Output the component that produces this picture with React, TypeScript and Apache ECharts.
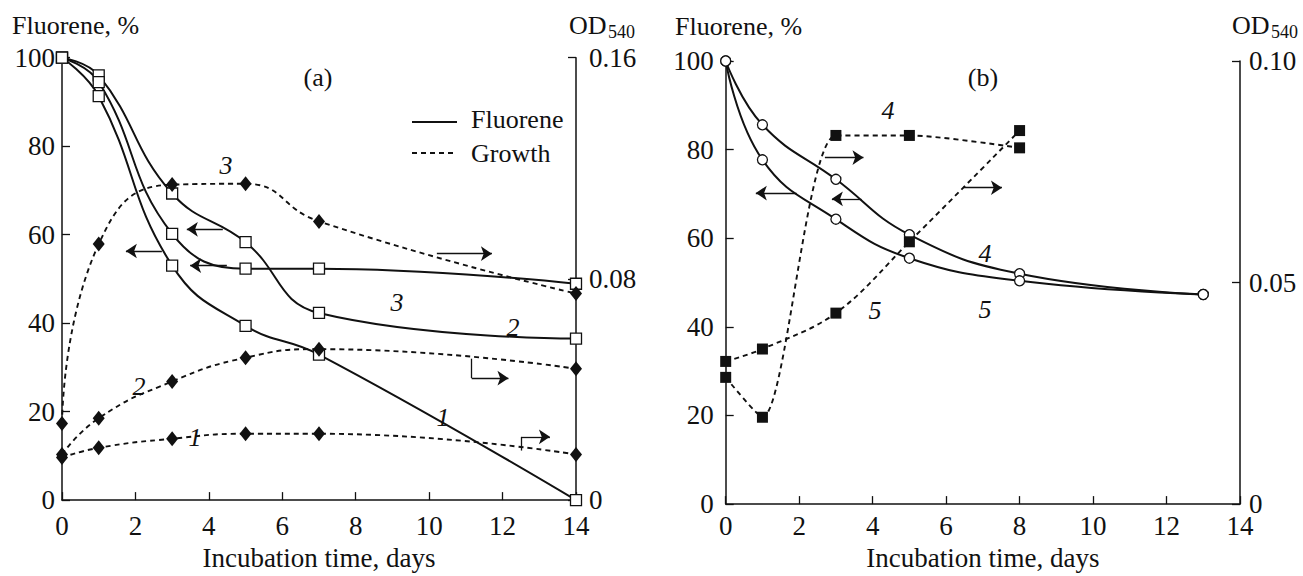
import React, { useEffect, useRef } from "react";
import * as echarts from "echarts";

// ---------- data ----------
// Panel (a)
const daysA = [0, 1, 3, 5, 7, 14];
const fluoreneA1 = [100, 91.3, 53.0, 39.4, 32.9, 0];
const fluoreneA2 = [100, 96.0, 69.3, 58.3, 42.3, 36.5];
const fluoreneA3 = [100, 94.5, 60.2, 52.3, 52.3, 48.9];
const growthA1 = [0.0154, 0.0189, 0.0222, 0.024, 0.024, 0.0165];
const growthA2 = [0.0165, 0.0296, 0.0429, 0.0515, 0.0546, 0.0475];
const growthA3 = [0.0277, 0.0926, 0.1141, 0.1144, 0.1008, 0.0747];
// Panel (b)
const daysBFluorene = [0, 1, 3, 5, 8, 13];
const fluoreneB4 = [100, 85.6, 73.3, 60.8, 52.0, 47.3];
const fluoreneB5 = [100, 77.7, 64.3, 55.5, 50.4, 47.3];
const daysBGrowth = [0, 1, 3, 5, 8];
const growthB4 = [0.0286, 0.0196, 0.0832, 0.0832, 0.0804];
const growthB5 = [0.0322, 0.035, 0.0431, 0.0592, 0.0843];

const xTicks = [0, 2, 4, 6, 8, 10, 12, 14];
const leftTicksPct = [0, 20, 40, 60, 80, 100];
const rightTicksA = [0, 0.08, 0.16];
const rightTicksB = [0, 0.05, 0.1];

const FONT = "Liberation Serif";
const INK = "#111";

const pairs = (xs: number[], ys: number[]) => xs.map((x, i) => [x, ys[i]]);

export default function App() {
  const ref = useRef<HTMLDivElement>(null);

  useEffect(() => {
    document.body.style.margin = "0";
    if (!ref.current) return;
    const chart = echarts.init(ref.current, undefined, { renderer: "svg" });

    const axisLine = { show: true, lineStyle: { color: INK, width: 1.5 } };
    const axisTick = { show: true, inside: true, length: 8, lineStyle: { color: INK, width: 1.3 } };
    const lbl = (margin: number) => ({ color: INK, fontSize: 27, fontFamily: FONT, margin });

    const xAxisBase = (gridIndex: number, margin: number, gap: number) => ({
      type: "value",
      gridIndex,
      min: xTicks[0],
      max: xTicks[xTicks.length - 1],
      interval: 2,
      axisLine,
      axisTick,
      splitLine: { show: false },
      axisLabel: lbl(margin),
      name: "Incubation time, days",
      nameLocation: "middle",
      nameGap: gap,
      nameTextStyle: { color: INK, fontSize: 27, fontFamily: FONT },
    });

    const yLeft = (gridIndex: number, margin: number) => ({
      type: "value",
      gridIndex,
      position: "left",
      min: leftTicksPct[0],
      max: leftTicksPct[leftTicksPct.length - 1],
      interval: 20,
      axisLine,
      axisTick,
      splitLine: { show: false },
      axisLabel: lbl(margin),
    });

    const yRight = (gridIndex: number, ticks: number[], margin: number) => ({
      type: "value",
      gridIndex,
      position: "right",
      min: ticks[0],
      max: ticks[ticks.length - 1],
      interval: ticks[1] - ticks[0],
      axisLine,
      axisTick,
      splitLine: { show: false },
      axisLabel: {
        ...lbl(margin),
        formatter: (v: number) => (v === 0 ? "0" : v.toFixed(2)),
      },
    });

    const fluor = (name: string, xs: number[], ys: number[], xi: number, yi: number, symbol: string, size: number, extra: any = {}) => ({
      type: "line",
      name,
      xAxisIndex: xi,
      yAxisIndex: yi,
      data: pairs(xs, ys),
      smooth: 0.45,
      symbol,
      symbolSize: size,
      lineStyle: { color: INK, width: 2, type: "solid" },
      itemStyle: { color: "#fff", borderColor: INK, borderWidth: 1.3 },
      z: 3,
      ...extra,
    });

    const growth = (name: string, xs: number[], ys: number[], xi: number, yi: number, symbol: string, size: any, smooth = 0.5) => ({
      type: "line",
      name,
      xAxisIndex: xi,
      yAxisIndex: yi,
      data: pairs(xs, ys),
      smooth,
      symbol,
      symbolSize: size,
      lineStyle: { color: INK, width: 1.9, type: [5, 4] },
      itemStyle: { color: INK, borderWidth: 0 },
      z: 4,
    });

    const arrow = (x1: number, y1: number, x2: number, y2: number, head = true) => [
      { coord: [x1, y1], symbol: "none" },
      { coord: [x2, y2], symbol: head ? "arrow" : "none" },
    ];

    const markLineA = {
      silent: true,
      symbolSize: 11,
      label: { show: false },
      lineStyle: { color: INK, width: 1.3, type: "solid" },
      data: [
        arrow(4.38, 61.2, 3.4, 61.2),
        arrow(2.72, 56.3, 1.74, 56.3),
        arrow(4.49, 53.0, 3.49, 53.0),
        arrow(10.21, 55.7, 11.71, 55.7),
        arrow(11.16, 31.96, 11.16, 27.56, false),
        arrow(11.16, 27.56, 12.16, 27.56),
        arrow(12.52, 11.2, 12.52, 14.3, false),
        arrow(12.52, 14.3, 13.29, 14.3),
      ],
    };
    const markLineB = {
      silent: true,
      symbolSize: 11,
      label: { show: false },
      lineStyle: { color: INK, width: 1.3, type: "solid" },
      data: [
        arrow(2.7, 78.2, 3.75, 78.2),
        arrow(1.93, 70.2, 0.82, 70.2),
        arrow(3.7, 68.9, 2.89, 68.9),
        arrow(6.46, 71.4, 7.52, 71.4),
      ],
    };

    const txt = (text: string, x: number, y: number, size = 26, align = "center", italic = false) => ({
      type: "text",
      x,
      y,
      silent: true,
      style: {
        text,
        fill: INK,
        fontFamily: FONT,
        fontSize: size,
        fontStyle: italic ? "italic" : "normal",
        align,
        verticalAlign: "middle",
      },
    });

    const option: any = {
      animation: false,
      backgroundColor: "#fff",
      textStyle: { fontFamily: FONT },
      grid: [
        { left: 62, top: 57.7, width: 514, height: 455 },
        { left: 725.7, top: 61, width: 514.3, height: 455 },
      ],
      xAxis: [xAxisBase(0, 12, 36), xAxisBase(1, 8, 33)],
      yAxis: [yLeft(0, 7), yRight(0, rightTicksA, 13), yLeft(1, 12), yRight(1, rightTicksB, 9)],
      series: [
        fluor("Fluorene 1", daysA, fluoreneA1, 0, 0, "rect", 11, { markLine: markLineA }),
        fluor("Fluorene 2", daysA, fluoreneA2, 0, 0, "rect", 11),
        fluor("Fluorene 3", daysA, fluoreneA3, 0, 0, "rect", 11),
        growth("Growth 1", daysA, growthA1, 0, 1, "diamond", [12, 15]),
        growth("Growth 2", daysA, growthA2, 0, 1, "diamond", [12, 15]),
        growth("Growth 3", daysA, growthA3, 0, 1, "diamond", [12, 15]),
        fluor("Fluorene 4", daysBFluorene, fluoreneB4, 1, 2, "circle", 10, { markLine: markLineB }),
        fluor("Fluorene 5", daysBFluorene, fluoreneB5, 1, 2, "circle", 10),
        growth("Growth 4", daysBGrowth, growthB4, 1, 3, "rect", 11, 0.25),
        growth("Growth 5", daysBGrowth, growthB5, 1, 3, "rect", 11, 0.35),
      ],
      graphic: [
        txt("Fluorene, %", 12, 25, 26, "left"),
        txt("OD", 569, 25, 26, "left"),
        txt("540", 608, 32, 18, "left"),
        txt("(a)", 318, 77),
        txt("Fluorene, %", 675, 26, 26, "left"),
        txt("OD", 1232, 25, 26, "left"),
        txt("540", 1271, 32, 18, "left"),
        txt("(b)", 983, 77),
        // legend
        { type: "line", silent: true, shape: { x1: 412, y1: 122, x2: 457, y2: 122 }, style: { stroke: INK, lineWidth: 1.9 } },
        { type: "line", silent: true, shape: { x1: 412, y1: 153, x2: 457, y2: 153 }, style: { stroke: INK, lineWidth: 1.9, lineDash: [5, 4] } },
        txt("Fluorene", 471, 119, 26, "left"),
        txt("Growth", 471, 153, 26, "left"),
        // curve labels
        txt("3", 226, 165, 26, "center", true),
        txt("3", 397, 302, 26, "center", true),
        txt("2", 513, 327, 26, "center", true),
        txt("2", 139, 386, 26, "center", true),
        txt("1", 195, 437, 26, "center", true),
        txt("1", 443, 417, 26, "center", true),
        txt("4", 888, 110, 26, "center", true),
        txt("4", 985, 253, 26, "center", true),
        txt("5", 985, 309, 26, "center", true),
        txt("5", 875, 310, 26, "center", true),
      ],
    };

    chart.setOption(option);
    return () => chart.dispose();
  }, []);

  return <div ref={ref} style={{ width: 1303, height: 576 }} />;
}
